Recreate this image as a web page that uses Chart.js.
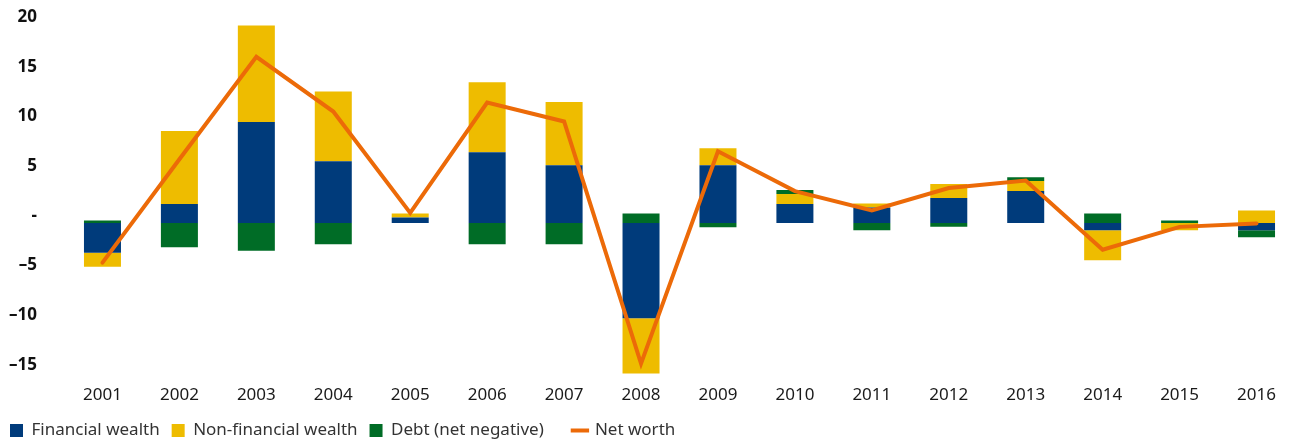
<!DOCTYPE html>
<html>
<head>
<meta charset="utf-8">
<script src="https://cdn.jsdelivr.net/npm/chart.js@4.4.1/dist/chart.umd.min.js"></script>
<style>
  html, body { margin: 0; padding: 0; background: #ffffff; }
  #wrap { width: 1295px; height: 439px; position: relative; }
</style>
</head>
<body>
<div id="wrap"><canvas id="chart"></canvas></div>
<script>
// Contributions to the change in household net worth, by year
const years = ['2001', '2002', '2003', '2004', '2005', '2006', '2007', '2008',
               '2009', '2010', '2011', '2012', '2013', '2014', '2015', '2016'];

const financialWealth    = [-3.0, 1.9, 10.15, 6.2, 0.55, 7.1, 5.8, -9.6, 5.8, 1.9, 1.55, 2.5, 3.2, -0.75, 0, -0.75];
const nonFinancialWealth = [-1.4, 7.35, 9.7, 7.0, 0.4, 7.05, 6.35, -5.55, 1.7, 1.0, 0.4, 1.4, 1.0, -3.0, -0.75, 1.25];
const debt               = [0.25, -2.45, -2.8, -2.15, 0, -2.15, -2.15, 0.95, -0.45, 0.4, -0.75, -0.4, 0.4, 0.95, 0.25, -0.7];
const netWorth           = [-4.0, 6.4, 16.7, 11.2, 1.0, 12.1, 10.2, -14.15, 7.2, 3.2, 1.25, 3.5, 4.25, -2.7, -0.4, -0.05];

const yTicks = [-15, -10, -5, 0, 5, 10, 15, 20];

const BLUE = '#003b7b';
const YELLOW = '#eebc00';
const GREEN = '#006c26';
const ORANGE = '#ec6a08';

const FONT = '"Noto Sans", "Open Sans", sans-serif';

function yLabel(v) {
  if (v === 0) return '-';
  if (v < 0) return '\u2013' + Math.abs(v);
  return String(v);
}

const barCommon = {
  type: 'bar',
  order: 1,
  borderWidth: 0,
  barPercentage: 0.481,
  categoryPercentage: 1.0,
  pointStyle: 'rect'
};

new Chart(document.getElementById('chart'), {
  data: {
    labels: years,
    datasets: [
      Object.assign({}, barCommon, { label: 'Financial wealth', data: financialWealth, backgroundColor: BLUE }),
      Object.assign({}, barCommon, { label: 'Non-financial wealth', data: nonFinancialWealth, backgroundColor: YELLOW }),
      // trailing spaces widen the gap before the net worth key
      Object.assign({}, barCommon, { label: 'Debt (net negative)\u00a0\u00a0\u00a0\u00a0', data: debt, backgroundColor: GREEN }),
      {
        type: 'line',
        order: 0,
        label: 'Net worth',
        data: netWorth,
        borderColor: ORANGE,
        backgroundColor: ORANGE,
        borderWidth: 4,
        borderCapStyle: 'round',
        borderJoinStyle: 'miter',
        pointRadius: 0,
        pointHoverRadius: 0,
        tension: 0,
        fill: false,
        pointStyle: 'line'
      }
    ]
  },
  options: {
    responsive: true,
    maintainAspectRatio: false,
    animation: false,
    devicePixelRatio: 1,
    layout: { padding: { top: 24, right: 0, bottom: -10, left: -2 } },
    scales: {
      x: {
        stacked: true,
        grid: { display: false, drawTicks: false },
        border: { display: false },
        ticks: {
          color: '#1a1a1a',
          font: { family: FONT, size: 17 },
          padding: 3,
          maxRotation: 0,
          autoSkip: false
        },
        afterFit(scale) { scale.height = 28; }
      },
      y: {
        stacked: true,
        min: -16,
        max: 20,
        grid: { display: false, drawTicks: false },
        border: { display: false },
        afterBuildTicks(scale) { scale.ticks = yTicks.map(v => ({ value: v })); },
        afterFit(scale) {
          scale.width = 66;
          scale.paddingTop = 10;
          scale.paddingBottom = 10;
        },
        ticks: {
          color: '#111111',
          font: { family: FONT, size: 17, weight: 'bold' },
          padding: 27,
          labelOffset: -7,
          callback: (v) => yLabel(v)
        }
      }
    },
    plugins: {
      tooltip: { enabled: false },
      legend: {
        position: 'bottom',
        align: 'start',
        labels: {
          usePointStyle: true,
          boxHeight: 13,
          boxWidth: 13,
          padding: 12,
          color: '#333333',
          font: { family: FONT, size: 17 },
          sort: (a, b) => a.datasetIndex - b.datasetIndex
        }
      }
    }
  }
});
</script>
</body>
</html>
